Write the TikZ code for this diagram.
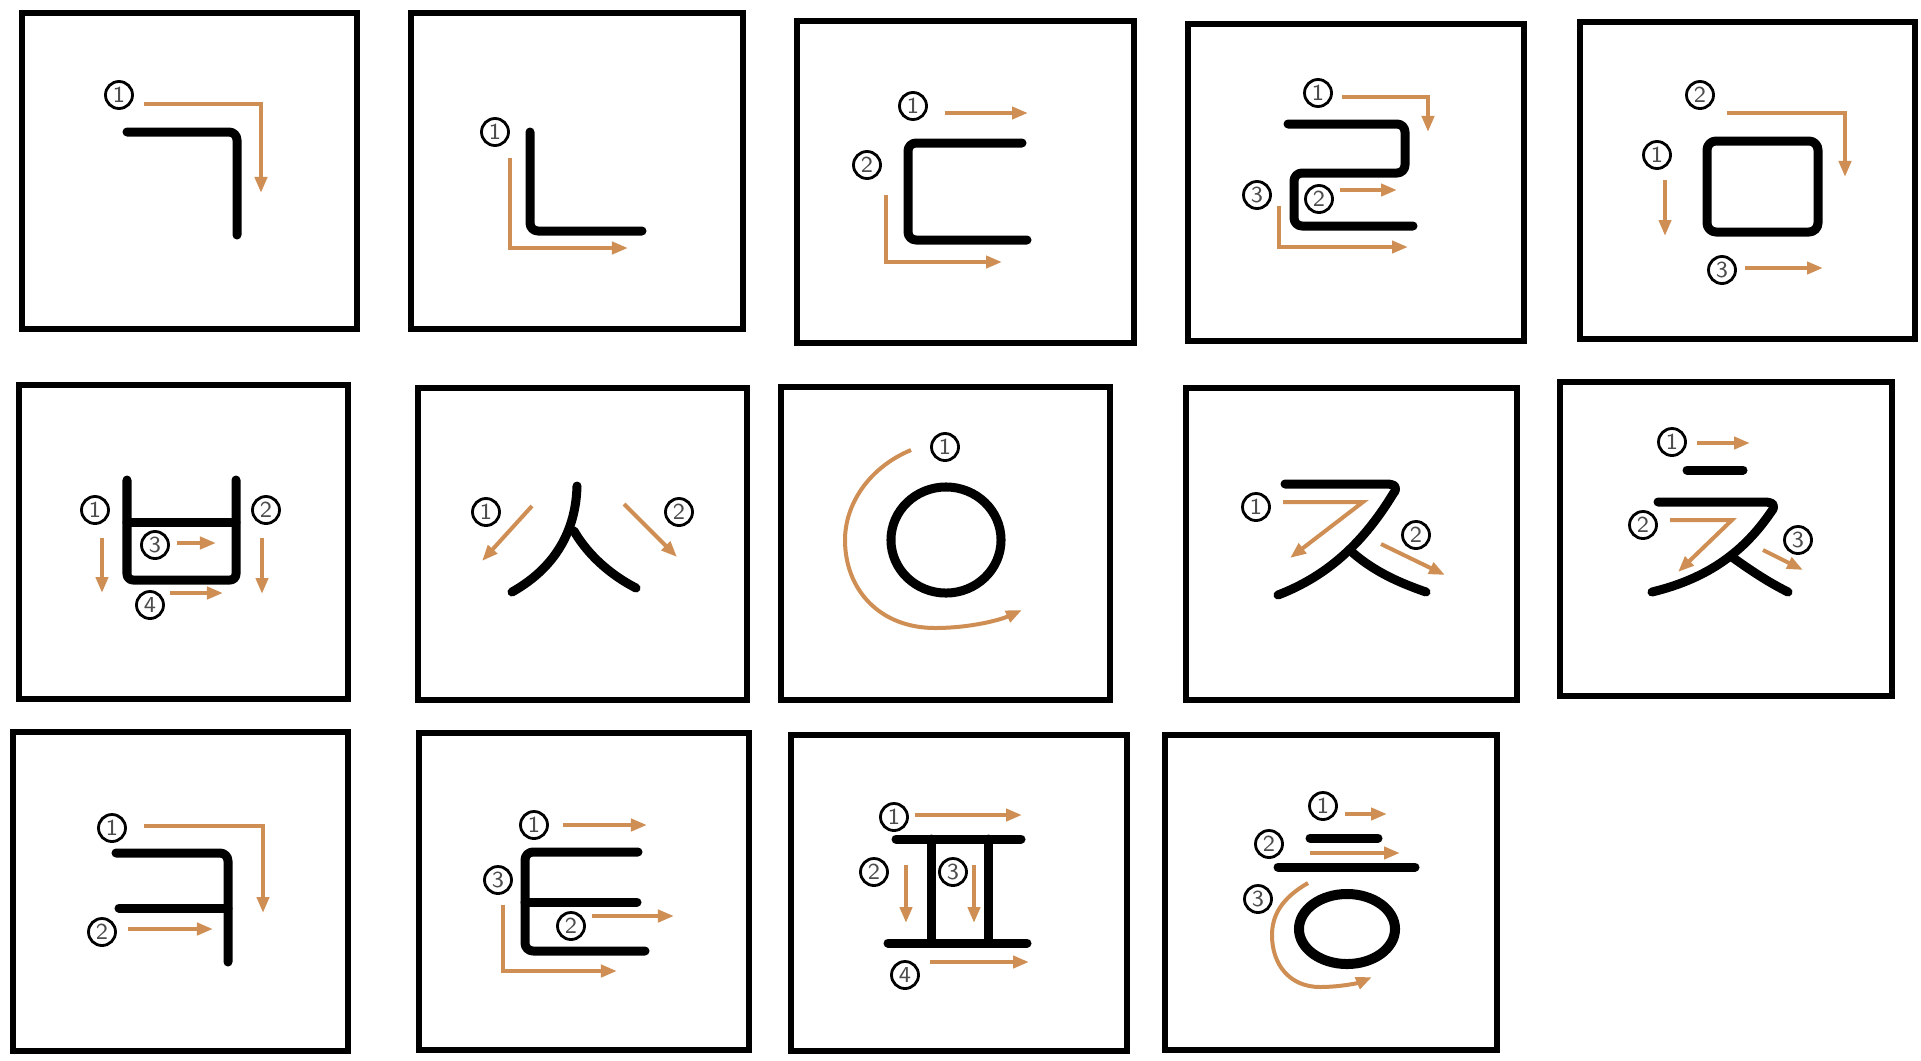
\documentclass[tikz,border=0pt]{standalone}
\usetikzlibrary{arrows.meta}
\definecolor{arrowc}{RGB}{207,142,84}
\tikzset{
  frame/.style={draw=black, line width=0.06cm},
  glyph/.style={draw=black, line width=0.09cm, line cap=round, line join=round},
  guide/.style={draw=arrowc, line width=0.04cm, -{Triangle[length=0.16cm,width=0.12cm]}},
  num/.style={circle, draw=black, line width=0.028cm, minimum size=0.27cm, inner sep=0pt,
    font=\fontsize{6.5}{6.5}\selectfont\sffamily, text=black!70, fill=white},
}
\begin{document}
\begin{tikzpicture}[x=0.01cm,y=-0.01cm]
\fill[white] (0,0) rectangle (1921,1060);
\useasboundingbox (0,0) rectangle (1921,1060);
% ---------- frames ----------
\draw[frame] (22,13) rectangle (357,329);
\draw[frame] (411,13) rectangle (743,329);
\draw[frame] (797,21) rectangle (1134,343);
\draw[frame] (1188,24) rectangle (1524,341);
\draw[frame] (1580,22) rectangle (1915,339);
\draw[frame] (19,385) rectangle (348,699);
\draw[frame] (418,388) rectangle (747,700);
\draw[frame] (781,387) rectangle (1110,700);
\draw[frame] (1186,388) rectangle (1517,700);
\draw[frame] (1560,382) rectangle (1892,696);
\draw[frame] (13,732) rectangle (348,1051);
\draw[frame] (419,733) rectangle (749,1050);
\draw[frame] (791,735) rectangle (1127,1051);
\draw[frame] (1165,735) rectangle (1497,1050);

% ---------- B1 giyeok ----------
\draw[glyph, rounded corners=0.08cm] (127,132) -- (237,132) -- (237,235);
\draw[guide] (144,104) -- (261,104) -- (261,193);
\node[num] (b1n1) at (119,95) {1};

% ---------- B2 nieun ----------
\draw[glyph, rounded corners=0.08cm] (530,132) -- (530,231) -- (642,231);
\draw[guide] (510,158) -- (510,248) -- (628,248);
\node[num] (b2n1) at (495,132) {1};

% ---------- B3 digeut ----------
\draw[glyph, rounded corners=0.08cm] (1022,143) -- (908,143) -- (908,240) -- (1027,240);
\draw[guide] (945,113) -- (1028,113);
\draw[guide] (886,195) -- (886,262) -- (1002,262);
\node[num] (b3n1) at (913,106) {1};
\node[num] (b3n2) at (867,165) {2};

% ---------- B4 rieul ----------
\draw[glyph, rounded corners=0.08cm] (1288,124) -- (1405,124) -- (1405,173) -- (1294,173) -- (1294,226) -- (1413,226);
\draw[guide] (1342,97) -- (1428,97) -- (1428,132);
\draw[guide] (1340,190) -- (1397,190);
\draw[guide] (1279,206) -- (1279,247) -- (1408,247);
\node[num] (b4n1) at (1318,93) {1};
\node[num] (b4n2) at (1319,199) {2};
\node[num] (b4n3) at (1257,195) {3};

% ---------- B5 mieum ----------
\draw[glyph, rounded corners=0.09cm] (1707,141) rectangle (1818,232);
\draw[guide] (1727,113) -- (1845,113) -- (1845,177);
\draw[guide] (1665,180) -- (1665,236);
\draw[guide] (1745,268) -- (1823,268);
\node[num] (b5n2) at (1700,95) {2};
\node[num] (b5n1) at (1657,155) {1};
\node[num] (b5n3) at (1722,270) {3};

% ---------- B6 bieup ----------
\draw[glyph, rounded corners=0.06cm] (127,480) -- (127,580) -- (236,580) -- (236,480);
\draw[glyph] (127,522) -- (236,522);
\draw[guide] (102,538) -- (102,593);
\draw[guide] (262,538) -- (262,594);
\draw[guide] (177,543) -- (216,543);
\draw[guide] (170,593) -- (223,593);
\node[num] (b6n1) at (95,510) {1};
\node[num] (b6n2) at (266,510) {2};
\node[num] (b6n3) at (155,545) {3};
\node[num] (b6n4) at (150,605) {4};

% ---------- B7 siot ----------
\draw[glyph] (577,486) .. controls (576,525) and (560,565) .. (512,592);
\draw[glyph] (574,531) .. controls (585,550) and (605,572) .. (636,588);
\draw[guide] (532,506) -- (482,561);
\draw[guide] (624,504) -- (677,557);
\node[num] (b7n1) at (486,512) {1};
\node[num] (b7n2) at (679,512) {2};

% ---------- B8 ieung ----------
\draw[glyph] (946,540) ellipse [x radius=0.55cm, y radius=0.53cm];
\draw[guide] (911,450) .. controls (868,468) and (845,505) .. (845,540)
  .. controls (845,590) and (880,628) .. (935,628)
  .. controls (970,628) and (1000,620) .. (1022,610);
\node[num] (b8n1) at (945,447) {1};

% ---------- B9 jieut ----------
\draw[glyph] (1285,484) -- (1386,484) .. controls (1396,484) and (1398,488) .. (1393,494)
  .. controls (1365,540) and (1330,575) .. (1278,595);
\draw[glyph] (1353,553) .. controls (1375,572) and (1400,583) .. (1426,592);
\draw[guide] (1283,502) -- (1363,502) -- (1290,558);
\draw[guide] (1381,544) -- (1445,575);
\node[num] (b9n1) at (1256,507) {1};
\node[num] (b9n2) at (1416,535) {2};

% ---------- B10 chieut ----------
\draw[glyph] (1687,470) -- (1743,470);
\draw[glyph] (1658,502) -- (1764,502) .. controls (1774,502) and (1776,506) .. (1771,512)
  .. controls (1745,550) and (1710,578) .. (1652,592);
\draw[glyph] (1732,557) .. controls (1750,570) and (1768,582) .. (1788,592);
\draw[guide] (1697,443) -- (1750,443);
\draw[guide] (1670,520) -- (1732,520) -- (1678,572);
\draw[guide] (1763,550) -- (1803,570);
\node[num] (b10n1) at (1672,442) {1};
\node[num] (b10n2) at (1643,525) {2};
\node[num] (b10n3) at (1798,540) {3};

% ---------- B11 kieuk ----------
\draw[glyph, rounded corners=0.08cm] (116,853) -- (228,853) -- (228,962);
\draw[glyph] (119,908) -- (228,908);
\draw[guide] (144,826) -- (263,826) -- (263,913);
\draw[guide] (128,929) -- (213,929);
\node[num] (b11n1) at (112,828) {1};
\node[num] (b11n2) at (102,932) {2};

% ---------- B12 tieut ----------
\draw[glyph, rounded corners=0.08cm] (638,852) -- (525,852) -- (525,951) -- (645,951);
\draw[glyph] (525,902) -- (637,902);
\draw[guide] (563,825) -- (647,825);
\draw[guide] (592,916) -- (674,916);
\draw[guide] (503,905) -- (503,971) -- (617,971);
\node[num] (b12n1) at (534,825) {1};
\node[num] (b12n3) at (498,880) {3};
\node[num] (b12n2) at (571,926) {2};

% ---------- B13 pieup ----------
\draw[glyph] (896,839) -- (1021,839);
\draw[glyph] (931,839) -- (931,943);
\draw[glyph] (988,839) -- (988,943);
\draw[glyph] (888,943) -- (1027,943);
\draw[guide] (915,815) -- (1022,815);
\draw[guide] (906,865) -- (906,923);
\draw[guide] (974,865) -- (974,923);
\draw[guide] (930,962) -- (1029,962);
\node[num] (b13n1) at (894,817) {1};
\node[num] (b13n2) at (874,872) {2};
\node[num] (b13n3) at (953,872) {3};
\node[num] (b13n4) at (905,975) {4};

% ---------- B14 hieut ----------
\draw[glyph] (1310,838) -- (1378,838);
\draw[glyph] (1278,867) -- (1415,867);
\draw[glyph, line width=0.1cm] (1347,929) ellipse [x radius=0.48cm, y radius=0.35cm];
\draw[guide] (1345,814) -- (1387,814);
\draw[guide] (1310,853) -- (1400,853);
\draw[guide] (1308,883) .. controls (1282,898) and (1272,915) .. (1272,935)
  .. controls (1272,965) and (1290,987) .. (1320,987)
  .. controls (1340,987) and (1358,983) .. (1372,977);
\node[num] (b14n1) at (1323,806) {1};
\node[num] (b14n2) at (1269,844) {2};
\node[num] (b14n3) at (1258,899) {3};
\end{tikzpicture}
\end{document}
